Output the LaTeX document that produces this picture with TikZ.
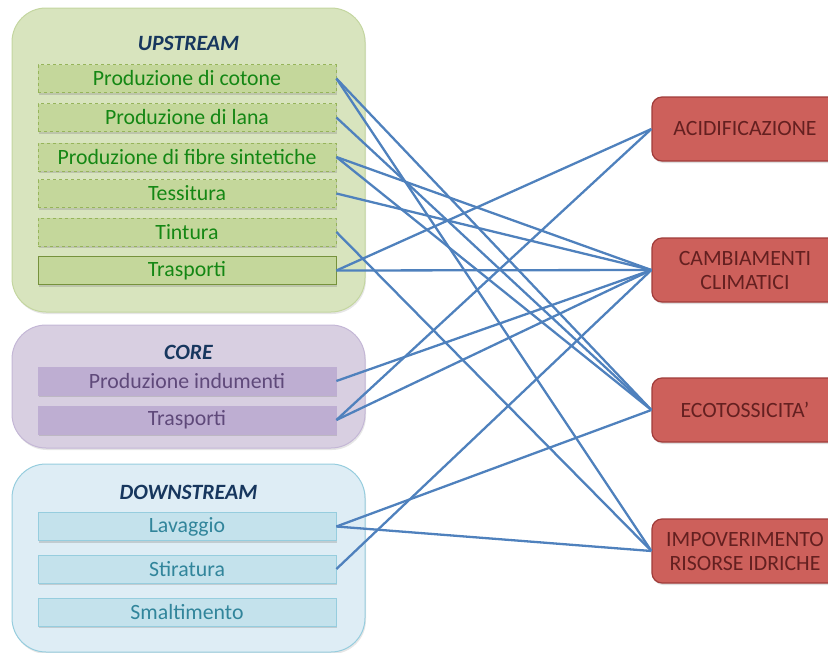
\documentclass[tikz,border=0pt]{standalone}
\usepackage{fontspec}
\setmainfont{Carlito}
\usetikzlibrary{shadows}
\definecolor{upbg}{RGB}{216,228,190}
\definecolor{upbd}{RGB}{196,214,160}
\definecolor{upfill}{RGB}{196,215,155}
\definecolor{upline}{RGB}{150,180,90}
\definecolor{upsolid}{RGB}{118,146,60}
\definecolor{uptext}{RGB}{20,135,20}
\definecolor{cobg}{RGB}{216,207,225}
\definecolor{cobd}{RGB}{196,183,214}
\definecolor{cofill}{RGB}{190,174,210}
\definecolor{cotext}{RGB}{95,73,122}
\definecolor{dnbg}{RGB}{222,237,245}
\definecolor{dnbd}{RGB}{150,205,222}
\definecolor{dnfill}{RGB}{196,226,236}
\definecolor{dntext}{RGB}{49,133,155}
\definecolor{titlec}{RGB}{23,55,94}
\definecolor{redfill}{RGB}{205,96,91}
\definecolor{redbd}{RGB}{160,60,58}
\definecolor{redtext}{RGB}{100,32,32}
\definecolor{linkc}{RGB}{79,129,189}
\tikzset{
  txt/.style={font=\fontsize{21.8}{24}\selectfont},
  group/.style={rounded corners=34pt, line width=1pt, drop shadow={opacity=0.2, shadow xshift=1pt, shadow yshift=-2pt}},
  titlebox/.style={txt, font=\fontsize{21.8}{24}\selectfont\bfseries\itshape, text=titlec},
  item/.style={txt, minimum width=298pt, minimum height=28pt, inner sep=0pt, line width=0.8pt,
    drop shadow={opacity=0.3, shadow xshift=1pt, shadow yshift=-2pt}},
  upitem/.style={item, fill=upfill, draw=upline, dashed, text=uptext},
  upsolitem/.style={item, fill=upfill, draw=upsolid, text=uptext},
  coitem/.style={item, fill=cofill, draw=cofill, text=cotext},
  dnitem/.style={item, fill=dnfill, draw=dnbd, text=dntext},
  impact/.style={txt, fill=redfill, draw=redbd, line width=1.2pt, rounded corners=10pt,
    minimum width=186pt, minimum height=64pt, inner sep=0pt, align=center, text=redtext,
    drop shadow={opacity=0.25, shadow xshift=1pt, shadow yshift=-2pt}},
  link/.style={draw=linkc, line width=2.3pt}
}
\begin{document}
\begin{tikzpicture}[x=1pt, y=-1pt]
\useasboundingbox (0,0) rectangle (828,653);
\begin{scope}
\clip (0,0) rectangle (828,653);
% groups
\draw[group, fill=upbg, draw=upbd] (12,8) rectangle (365,312);
\draw[group, fill=cobg, draw=cobd] (12,325) rectangle (365,448);
\draw[group, fill=dnbg, draw=dnbd] (12,464) rectangle (365,652);
\node[titlebox] (tup) at (188.5,43) {UPSTREAM};
\node[titlebox] (tco) at (188.5,352) {CORE};
\node[titlebox] (tdn) at (188.5,492) {DOWNSTREAM};
% upstream items
\node[upitem] (u1) at (187,78.5) {Produzione di cotone};
\node[upitem] (u2) at (187,117.5) {Produzione di lana};
\node[upitem] (u3) at (187,157) {Produzione di fibre sintetiche};
\node[upitem] (u4) at (187,193.5) {Tessitura};
\node[upitem] (u5) at (187,232) {Tintura};
\node[upsolitem] (u6) at (187,270.5) {Trasporti};
% core items
\node[coitem] (c1) at (187,381) {Produzione indumenti};
\node[coitem] (c2) at (187,420) {Trasporti};
% downstream items
\node[dnitem] (d1) at (187,526.5) {Lavaggio};
\node[dnitem] (d2) at (187,569) {Stiratura};
\node[dnitem] (d3) at (187,612) {Smaltimento};
% impacts
\node[impact] (acid) at (745,129) {ACIDIFICAZIONE};
\node[impact] (clim) at (745,270) {CAMBIAMENTI\\CLIMATICI};
\node[impact] (eco) at (745,410) {ECOTOSSICITA’};
\node[impact] (imp) at (745,551) {IMPOVERIMENTO\\RISORSE IDRICHE};
% links
\draw[link] (u1.east) -- (eco.west);
\draw[link] (u1.east) -- (imp.west);
\draw[link] (u2.east) -- (eco.west);
\draw[link] (u3.east) -- (clim.west);
\draw[link] (u3.east) -- (eco.west);
\draw[link] (u4.east) -- (clim.west);
\draw[link] (u5.east) -- (imp.west);
\draw[link] (u6.east) -- (acid.west);
\draw[link] (u6.east) -- (clim.west);
\draw[link] (c1.east) -- (clim.west);
\draw[link] (c2.east) -- (acid.west);
\draw[link] (c2.east) -- (clim.west);
\draw[link] (d1.east) -- (eco.west);
\draw[link] (d1.east) -- (imp.west);
\draw[link] (d2.east) -- (clim.west);
\end{scope}
\end{tikzpicture}
\end{document}
